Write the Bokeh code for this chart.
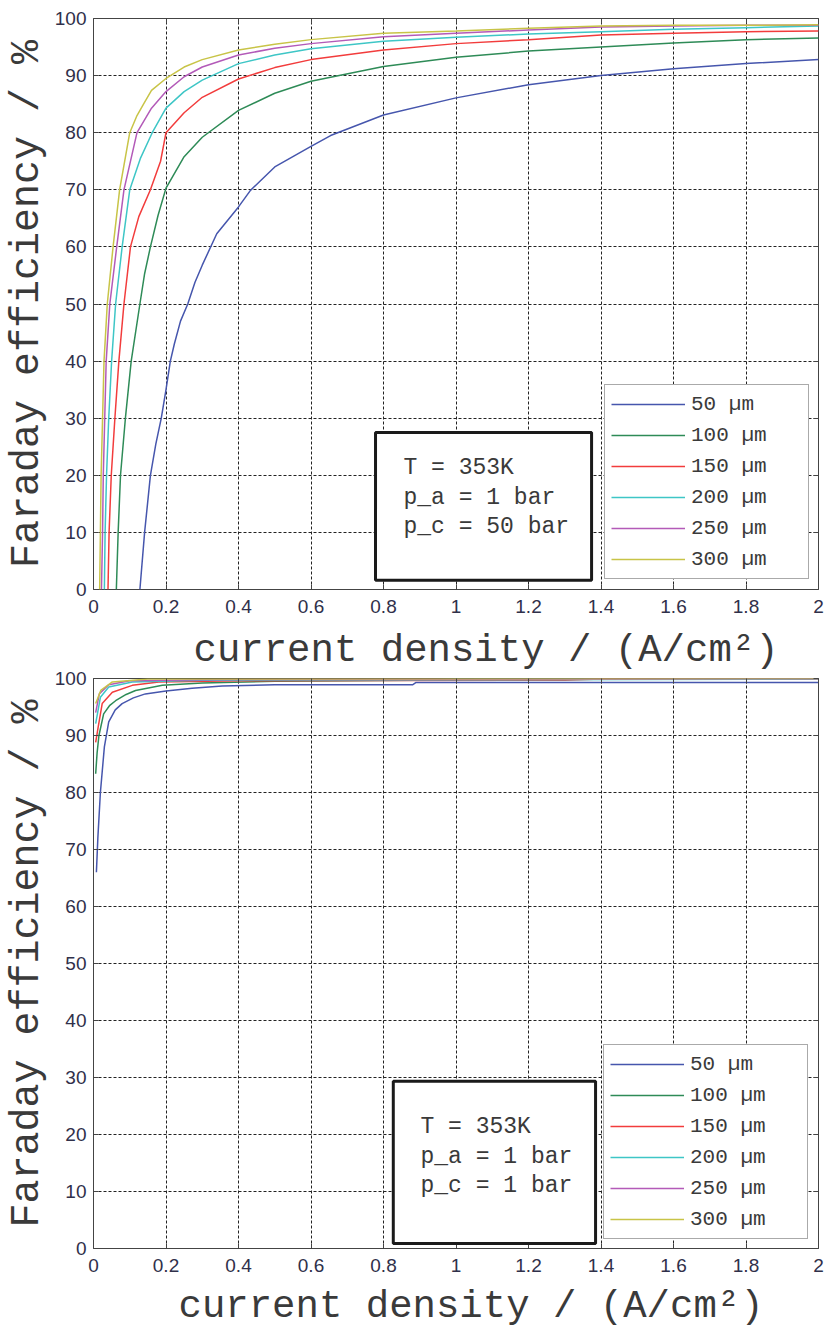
from bokeh.plotting import figure
from bokeh.layouts import column
from bokeh.models import (FixedTicker, LinearAxis, Legend, LegendItem,
                          BoxAnnotation, Label, Title, Range1d)
from bokeh.embed import file_html
from bokeh.resources import INLINE

# ---------------- data ----------------
series_names = ["50 µm", "100 µm", "150 µm", "200 µm", "250 µm", "300 µm"]
series_colors = ["#4656ad", "#2e8b57", "#f23c3c", "#3ec6c6", "#b35ab8", "#c8c447"]

x_ticks = [0, 0.2, 0.4, 0.6, 0.8, 1.0, 1.2, 1.4, 1.6, 1.8, 2.0]
x_tick_labels = ["0", "0.2", "0.4", "0.6", "0.8", "1", "1.2", "1.4", "1.6", "1.8", "2"]
y_ticks = [0, 10, 20, 30, 40, 50, 60, 70, 80, 90, 100]

# top panel: p_c = 50 bar
top_x_50 = [0.128, 0.141, 0.157, 0.172, 0.187, 0.2, 0.212, 0.223, 0.24, 0.26, 0.28, 0.3, 0.34, 0.4, 0.433, 0.5, 0.6, 0.654, 0.8, 1.0, 1.2, 1.4, 1.6, 1.8, 2.0]
top_y_50 = [0, 10, 20, 25.5, 30, 35, 40, 43, 47, 50, 53.8, 56.8, 62.3, 67, 69.9, 74, 77.6, 79.5, 83.1, 86.1, 88.4, 90.0, 91.2, 92.1, 92.8]
top_x_100 = [0.063, 0.068, 0.0745, 0.088, 0.104, 0.128, 0.141, 0.157, 0.178, 0.2, 0.25, 0.3, 0.4, 0.5, 0.6, 0.654, 0.8, 1.0, 1.2, 1.4, 1.6, 1.8, 2.0]
top_y_100 = [0, 10, 20, 30, 40, 50, 55.3, 60, 65.5, 70.3, 75.8, 79.2, 83.9, 86.9, 89.0, 89.7, 91.6, 93.2, 94.3, 95.0, 95.7, 96.3, 96.6]
top_x_150 = [0.04, 0.043, 0.049, 0.059, 0.07, 0.084, 0.102, 0.125, 0.157, 0.185, 0.2, 0.25, 0.3, 0.4, 0.5, 0.6, 0.8, 1.0, 1.2, 1.4, 1.6, 1.8, 2.0]
top_y_150 = [0, 10, 20, 30, 40, 50, 60, 65.3, 70, 75, 80, 83.5, 86.2, 89.4, 91.4, 92.8, 94.5, 95.6, 96.3, 97.1, 97.4, 97.7, 97.8]
top_x_200 = [0.03, 0.032, 0.036, 0.042, 0.05, 0.061, 0.079, 0.1, 0.13, 0.162, 0.2, 0.25, 0.3, 0.4, 0.5, 0.6, 0.8, 1.0, 1.2, 1.4, 1.6, 1.8, 2.0]
top_y_200 = [0, 10, 20, 30, 40, 50, 60, 70, 75.6, 80, 84.3, 87.2, 89.2, 92.1, 93.6, 94.7, 96.0, 96.7, 97.3, 97.7, 98.1, 98.4, 98.7]
top_x_250 = [0.022, 0.025, 0.027, 0.031, 0.035, 0.045, 0.064, 0.084, 0.12, 0.16, 0.2, 0.25, 0.3, 0.4, 0.5, 0.6, 0.8, 1.0, 1.2, 1.4, 1.6, 1.8, 2.0]
top_y_250 = [0, 10, 20, 30, 40, 50, 60, 70, 80, 84.3, 87.2, 89.8, 91.5, 93.6, 94.8, 95.6, 96.8, 97.4, 98.0, 98.5, 98.7, 98.8, 98.8]
top_x_300 = [0.017, 0.019, 0.021, 0.025, 0.029, 0.038, 0.054, 0.072, 0.1, 0.12, 0.138, 0.16, 0.2, 0.25, 0.3, 0.4, 0.5, 0.6, 0.8, 1.0, 1.2, 1.4, 1.6, 1.8, 2.0]
top_y_300 = [0, 10, 20, 30, 40, 50, 60, 70, 80, 83, 85, 87.4, 89.5, 91.5, 92.8, 94.5, 95.5, 96.3, 97.4, 97.8, 98.3, 98.7, 98.8, 98.8, 98.9]

# bottom panel: p_c = 1 bar
bot_x_50 = [0.008, 0.012, 0.019, 0.03, 0.042, 0.06, 0.079, 0.11, 0.143, 0.2, 0.272, 0.355, 0.5, 0.88, 0.89, 2.0]
bot_y_50 = [66, 72, 80, 88, 92.4, 94.5, 95.6, 96.6, 97.3, 97.8, 98.3, 98.7, 98.9, 98.9, 99.3, 99.3]
bot_x_100 = [0.006, 0.01, 0.015, 0.028, 0.045, 0.061, 0.09, 0.116, 0.19, 0.3, 0.5, 0.9, 1.0, 2.0]
bot_y_100 = [83.3, 87, 90, 93.8, 95.3, 96.1, 97.2, 97.9, 98.8, 99.2, 99.5, 99.7, 99.9, 99.9]
bot_x_150 = [0.006, 0.013, 0.024, 0.052, 0.107, 0.18, 0.4, 1.3, 1.4, 2.0]
bot_y_150 = [88.8, 91.5, 95.6, 97.6, 98.8, 99.4, 99.6, 99.7, 99.9, 99.9]
bot_x_200 = [0.006, 0.019, 0.042, 0.107, 0.3, 2.0]
bot_y_200 = [92.1, 96.7, 98.5, 99.4, 99.7, 99.9]
bot_x_250 = [0.006, 0.016, 0.042, 0.1, 0.3, 2.0]
bot_y_250 = [94.0, 97.3, 98.9, 99.6, 99.8, 99.95]
bot_x_300 = [0.006, 0.02, 0.052, 0.15, 2.0]
bot_y_300 = [95.6, 97.9, 99.4, 99.9, 100]

top_xs = [top_x_50, top_x_100, top_x_150, top_x_200, top_x_250, top_x_300]
top_ys = [top_y_50, top_y_100, top_y_150, top_y_200, top_y_250, top_y_300]
bot_xs = [bot_x_50, bot_x_100, bot_x_150, bot_x_200, bot_x_250, bot_x_300]
bot_ys = [bot_y_50, bot_y_100, bot_y_150, bot_y_200, bot_y_250, bot_y_300]

top_notes = ["T = 353K", "p_a = 1 bar", "p_c = 50 bar"]
bot_notes = ["T = 353K", "p_a = 1 bar", "p_c = 1 bar"]

x_label = "current density / (A/cm²)"
y_label = "Faraday efficiency / %"

MONO = "Liberation Mono"
SANS = "Liberation Sans"
TXT = "#3a3a3a"
TICKC = "#30304a"


def make_panel(height, border_top, border_bottom, xs, ys, notes,
               box, note_x, note_ys, legend_loc, xlabel_offset, xlabel_standoff,
               margin, transparent):
    p = figure(width=826, height=height, x_range=Range1d(0, 2), y_range=Range1d(0, 100),
               output_backend="svg", toolbar_location=None,
               min_border_left=93, min_border_right=8,
               min_border_top=border_top, min_border_bottom=border_bottom,
               background_fill_color="white", border_fill_color="white",
               margin=margin)
    if transparent:
        p.border_fill_alpha = 0.0
    p.outline_line_color = "#444444"
    p.outline_line_width = 1

    for ax in (p.xaxis[0], p.yaxis[0]):
        ax.major_tick_in = 5
        ax.major_tick_out = 0
        ax.minor_tick_line_color = None
        ax.axis_line_color = None
        ax.major_tick_line_color = "#444444"
        ax.major_label_text_font = SANS
        ax.major_label_text_font_size = "19px"
        ax.major_label_text_color = TICKC
    p.xaxis.ticker = FixedTicker(ticks=x_ticks)
    p.xaxis.major_label_overrides = {t: l for t, l in zip(x_ticks, x_tick_labels)}
    p.xaxis.major_label_standoff = 10
    p.yaxis.ticker = FixedTicker(ticks=y_ticks)
    p.yaxis.major_label_standoff = 7
    p.yaxis.axis_label = y_label
    p.yaxis.axis_label_text_font = MONO
    p.yaxis.axis_label_text_font_size = "40px"
    p.yaxis.axis_label_text_font_style = "normal"
    p.yaxis.axis_label_text_color = TXT
    p.yaxis.axis_label_standoff = 2

    ra = LinearAxis(ticker=FixedTicker(ticks=y_ticks), major_label_text_font_size="1px",
                    major_label_overrides={t: "" for t in y_ticks},
                    major_tick_in=5, major_tick_out=0, axis_line_color=None,
                    minor_tick_line_color=None, major_tick_line_color="#444444",
                    major_label_standoff=0)
    p.add_layout(ra, "right")
    ta = LinearAxis(ticker=FixedTicker(ticks=x_ticks), major_label_text_font_size="1px",
                    major_label_overrides={t: "" for t in x_ticks},
                    major_tick_in=5, major_tick_out=0, axis_line_color=None,
                    minor_tick_line_color=None, major_tick_line_color="#444444",
                    major_label_standoff=0)
    p.add_layout(ta, "above")

    for g in (p.xgrid[0], p.ygrid[0]):
        g.grid_line_color = "#222222"
        g.grid_line_dash = "3 2"
        g.grid_line_width = 1

    title = Title(text=x_label, align="left", offset=xlabel_offset, text_font=MONO,
                  text_font_size="39px", text_font_style="normal", text_color=TXT,
                  standoff=xlabel_standoff, text_line_height=0.8)
    p.add_layout(title, "below")

    items = []
    for x, y, c, name in zip(xs, ys, series_colors, series_names):
        r = p.line(x, y, line_color=c, line_width=1.5)
        items.append(LegendItem(label=name, renderers=[r]))

    p.add_layout(BoxAnnotation(left=box[0], right=box[1], bottom=box[2], top=box[3],
                               fill_color="white", fill_alpha=1.0,
                               line_color="#1a1a1a", line_alpha=1.0, line_width=3))
    for t, yy in zip(notes, note_ys):
        p.add_layout(Label(x=note_x, y=yy, text=t, text_font=MONO, text_font_size="23px",
                           text_baseline="middle", text_color=TXT))

    legend = Legend(items=items, location=legend_loc, glyph_width=74, glyph_height=26,
                    label_height=26, label_width=111, spacing=5, padding=6, margin=0,
                    label_standoff=6, border_line_color="#555555", border_line_width=1,
                    label_text_font=MONO, label_text_font_size="21px",
                    label_text_color=TXT, background_fill_color="white",
                    background_fill_alpha=1.0)
    p.add_layout(legend)
    return p


p1 = make_panel(685, 18, 96, top_xs, top_ys, top_notes,
                (0.778, 1.374, 1.6, 27.5), 0.855, [21.2, 16.1, 10.9], (511, 10), 100, 22,
                (0, 0, 0, 0), False)
p2 = make_panel(677, 11, 96, bot_xs, bot_ys, bot_notes,
                (0.827, 1.385, 0.88, 29.35), 0.902, [21.3, 16.0, 10.9], (510, 9), 85, 16,
                (-18, 0, 0, 0), True)

layout = column(p1, p2, spacing=0)
open("out.html", "w").write(file_html(layout, INLINE))
